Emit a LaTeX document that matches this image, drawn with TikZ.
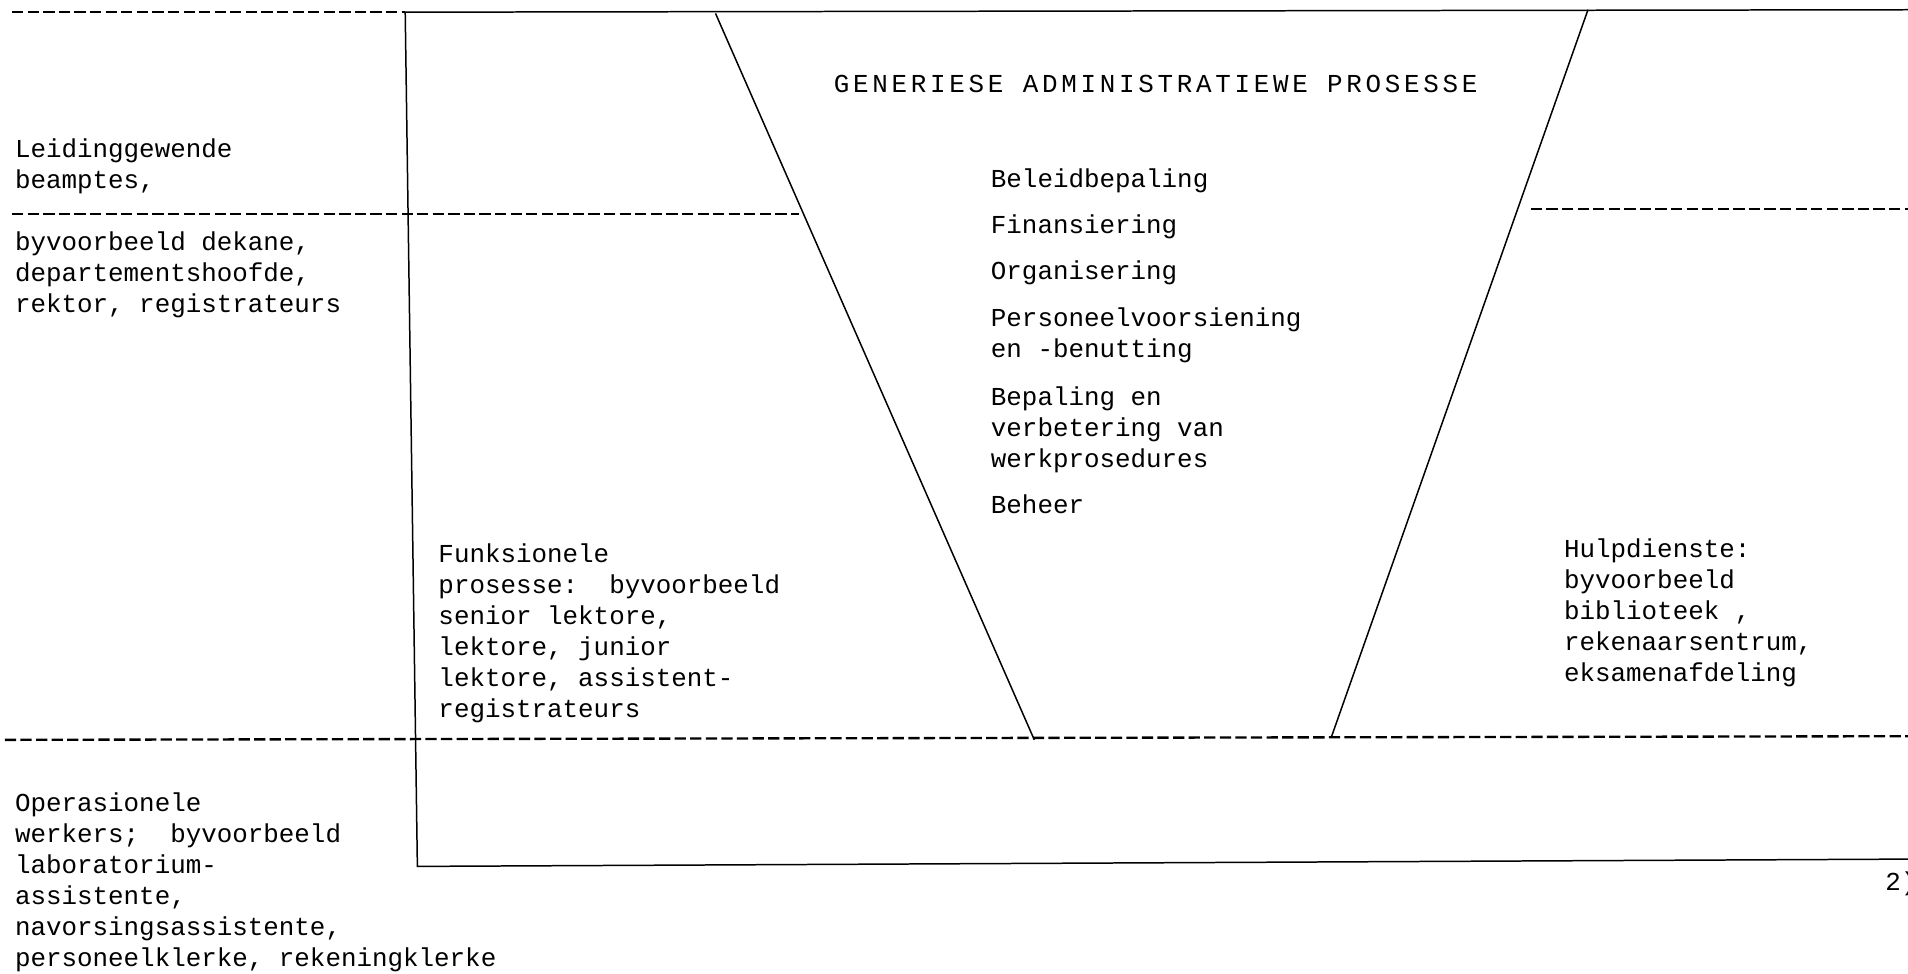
\documentclass[tikz,border=0pt]{standalone}
\usepackage{fontspec}
\setmainfont{Liberation Mono}
\usepackage{tikz}
\usetikzlibrary{positioning}

\tikzset{
    txt/.style={font=\fontsize{12.1}{14.5}\selectfont, inner sep=0pt, align=left, anchor=base west},
    heading/.style={txt, font=\fontsize{12.1}{14.5}\selectfont\addfontfeatures{LetterSpace=14.4}},
    frameline/.style={line width=0.7pt},
    levelline/.style={line width=1.1pt, dash pattern=on 1.85mm off 0.71mm}
}

\begin{document}
\begin{tikzpicture}[x=0.2mm,y=-0.2mm]

                \useasboundingbox (0,0) rectangle (1568,800);

                % corners of the frame and the funnel
                \coordinate (tl) at (333,10);
                \coordinate (tr) at (1568,8);
                \coordinate (bl) at (343,712);
                \coordinate (br) at (1568,706);
                \coordinate (fl top) at (588,11);
                \coordinate (fl bot) at (850,608);
                \coordinate (fr top) at (1305,8);
                \coordinate (fr bot) at (1094,606);

                \draw[frameline] (tr) -- (tl) -- (bl) -- (br);
                \draw[frameline] (fl top) -- (fl bot);
                \draw[frameline] (fr top) -- (fr bot);

                % levels
                \coordinate (top left) at (10,10);
                \coordinate (mid left) at (10,176);
                \coordinate (mid end) at (657,176);
                \coordinate (mid right a) at (1258,172);
                \coordinate (mid right b) at (1568,172);
                \coordinate (low left) at (4,608);
                \coordinate (low right) at (1568,605);

                \draw[levelline] (top left) -- (tl);
                \draw[levelline] (mid left) -- (mid end);
                \draw[levelline] (mid right a) -- (mid right b);
                \draw[levelline] (low left) -- (low right);

                % texts (placed at the baseline of their last line)
                \node[heading] (generic) at (685,76) {GENERIESE ADMINISTRATIEWE PROSESSE};

                \node[txt] (policy) at (814,154) {Beleidbepaling};
                \node[txt] (finance) at (814,192) {Finansiering};
                \node[txt] (organise) at (814,230) {Organisering};
                \node[txt] (staff) at (814,294) {Personeelvoorsiening\\en -benutting};
                \node[txt] (methods) at (814,384) {Bepaling en\\verbetering van\\werkprosedures};
                \node[txt] (control) at (814,422) {Beheer};

                \node[txt] (leaders) at (12,155) {Leidinggewende\\beamptes,};
                \node[txt] (leaders ex) at (12,257) {byvoorbeeld dekane,\\departementshoofde,\\rektor, registrateurs};
                \node[txt] (functional) at (360,590) {Funksionele\\prosesse:\ \ byvoorbeeld\\senior lektore,\\lektore, junior\\lektore, assistent-\\registrateurs};
                \node[txt] (support) at (1285,560) {Hulpdienste:\\byvoorbeeld\\biblioteek ,\\rekenaarsentrum,\\eksamenafdeling};
                \node[txt] (operational) at (12,794) {Operasionele\\werkers;\ \ byvoorbeeld\\laboratorium-\\assistente,\\navorsingsassistente,\\personeelklerke, rekeningklerke};
                \node[txt] (note) at (1549,732) {2)};

            \end{tikzpicture}
\end{document}
